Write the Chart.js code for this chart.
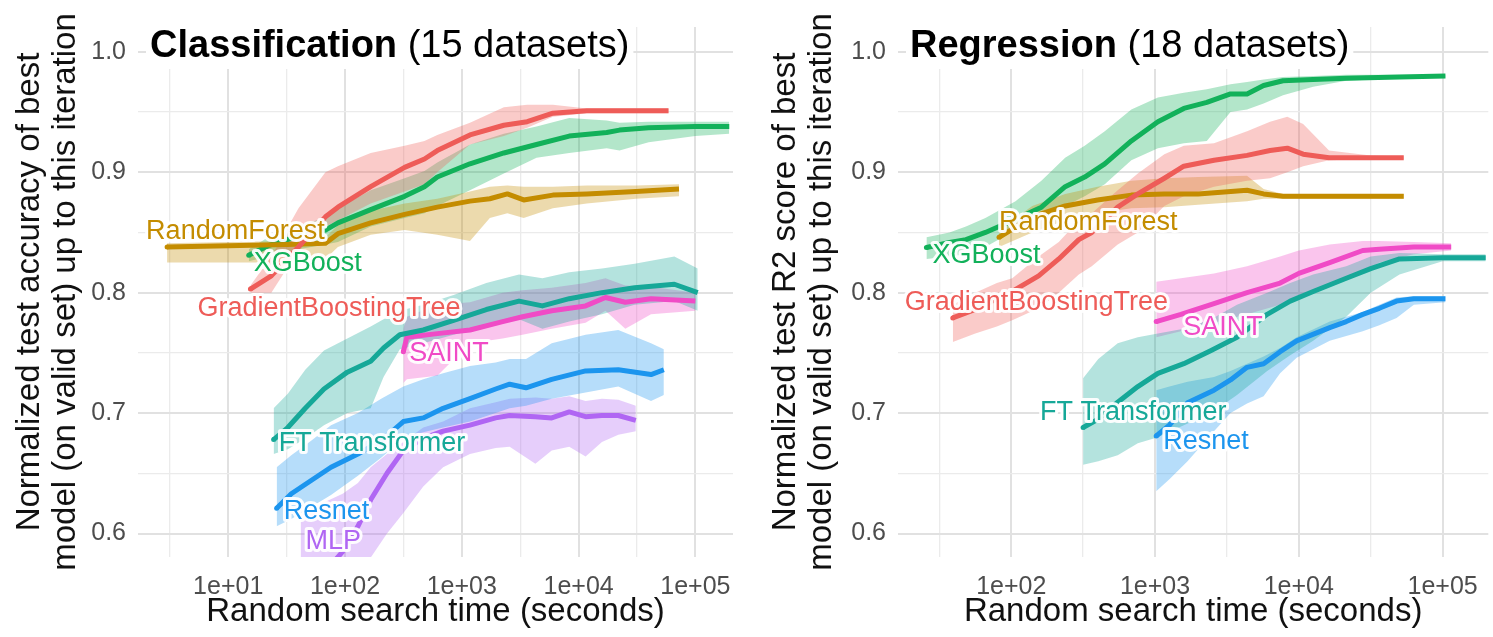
<!DOCTYPE html>
<html>
<head>
<meta charset="utf-8">
<script src="https://cdn.jsdelivr.net/npm/chart.js@4.4.1/dist/chart.umd.min.js"></script>
<style>
  body { margin: 0; background: #fff; }
  #wrap { position: relative; width: 1493px; height: 637px; overflow: hidden; }
  #wrap canvas { position: absolute; top: 0; }
</style>
</head>
<body>
<div id="wrap">
  <canvas id="cls" width="746" height="637" style="left:0;width:746px;height:637px"></canvas>
  <canvas id="reg" width="747" height="637" style="left:746px;width:747px;height:637px"></canvas>
</div>
<script>
// ---- axis ticks ----
const xMajorCls = [10, 100, 1000, 10000, 100000];
const xMinorCls = [3.162, 31.62, 316.2, 3162, 31623];
const xMajorReg = [100, 1000, 10000, 100000];
const xMinorReg = [31.62, 316.2, 3162, 31623];
const yMajor = [0.6, 0.7, 0.8, 0.9, 1.0];
const yMinor = [0.65, 0.75, 0.85, 0.95];

// ---- Classification (15 datasets) ----
const clsGbtTime = [15.5, 23.4, 40, 68, 87, 166, 324, 479, 617, 1175, 2291, 3631, 6026, 11750, 30900, 58900];
const clsGbtMean = [0.803, 0.814, 0.838, 0.863, 0.871, 0.888, 0.904, 0.911, 0.918, 0.931, 0.939, 0.942, 0.949, 0.951, 0.951, 0.951];
const clsGbtLo = [0.800, 0.800, 0.835, 0.855, 0.860, 0.874, 0.884, 0.890, 0.900, 0.923, 0.930, 0.937, 0.946, 0.949, 0.949, 0.949];
const clsGbtHi = [0.806, 0.830, 0.870, 0.900, 0.905, 0.916, 0.922, 0.926, 0.931, 0.941, 0.954, 0.956, 0.956, 0.953, 0.953, 0.953];

const clsRfTime = [3, 10, 32, 68, 87, 166, 324, 617, 1175, 1738, 2455, 3388, 6026, 11750, 30900, 72400];
const clsRfMean = [0.838, 0.839, 0.840, 0.841, 0.849, 0.858, 0.865, 0.871, 0.876, 0.878, 0.882, 0.877, 0.881, 0.882, 0.884, 0.886];
const clsRfLo = [0.825, 0.825, 0.825, 0.828, 0.838, 0.848, 0.852, 0.848, 0.843, 0.862, 0.866, 0.862, 0.870, 0.874, 0.878, 0.880];
const clsRfHi = [0.841, 0.842, 0.843, 0.846, 0.856, 0.868, 0.874, 0.878, 0.884, 0.888, 0.889, 0.888, 0.888, 0.889, 0.889, 0.890];

const clsXgbTime = [15, 22, 40, 68, 87, 166, 324, 479, 617, 1175, 2291, 4365, 8318, 17400, 22400, 39800, 100000, 195000];
const clsXgbMean = [0.831, 0.839, 0.847, 0.852, 0.858, 0.869, 0.880, 0.888, 0.896, 0.907, 0.916, 0.923, 0.930, 0.933, 0.935, 0.937, 0.938, 0.938];
const clsXgbLo = [0.826, 0.830, 0.836, 0.840, 0.842, 0.855, 0.862, 0.866, 0.872, 0.885, 0.899, 0.912, 0.916, 0.920, 0.918, 0.925, 0.930, 0.932];
const clsXgbHi = [0.836, 0.846, 0.856, 0.862, 0.870, 0.885, 0.895, 0.901, 0.908, 0.923, 0.932, 0.938, 0.945, 0.943, 0.941, 0.942, 0.942, 0.942];

const clsFtTime = [24.5, 32.4, 45.7, 66.1, 104.7, 166, 214, 295, 468, 851, 1622, 3090, 4898, 8318, 15850, 30200, 66070, 104700];
const clsFtMean = [0.678, 0.688, 0.704, 0.720, 0.734, 0.743, 0.754, 0.765, 0.769, 0.777, 0.786, 0.793, 0.789, 0.795, 0.800, 0.804, 0.807, 0.800];
const clsFtLo = [0.666, 0.670, 0.679, 0.690, 0.700, 0.704, 0.730, 0.753, 0.758, 0.765, 0.772, 0.778, 0.770, 0.776, 0.782, 0.790, 0.793, 0.785];
const clsFtHi = [0.704, 0.716, 0.736, 0.752, 0.762, 0.772, 0.778, 0.785, 0.790, 0.798, 0.808, 0.815, 0.812, 0.817, 0.820, 0.824, 0.830, 0.820];

const clsResnetTime = [26, 34.7, 51.3, 75.9, 129, 204, 316, 468, 692, 1175, 1950, 2570, 3548, 5888, 11480, 21880, 41690, 53700];
const clsResnetMean = [0.621, 0.633, 0.644, 0.655, 0.666, 0.677, 0.693, 0.696, 0.704, 0.712, 0.720, 0.724, 0.721, 0.728, 0.735, 0.736, 0.732, 0.736];
const clsResnetLo = [0.606, 0.612, 0.622, 0.632, 0.648, 0.663, 0.679, 0.684, 0.688, 0.693, 0.700, 0.704, 0.706, 0.712, 0.717, 0.722, 0.710, 0.715];
const clsResnetHi = [0.655, 0.665, 0.677, 0.690, 0.700, 0.712, 0.722, 0.728, 0.733, 0.739, 0.742, 0.745, 0.745, 0.758, 0.765, 0.769, 0.758, 0.753];

const clsMlpTime = [41.7, 63.1, 95.5, 129, 166, 229, 316, 468, 692, 1175, 1950, 2570, 4266, 5888, 8318, 11480, 15850, 21880, 30900];
const clsMlpMean = [0.540, 0.565, 0.585, 0.606, 0.628, 0.650, 0.669, 0.679, 0.685, 0.690, 0.696, 0.698, 0.697, 0.696, 0.701, 0.697, 0.698, 0.698, 0.694];
const clsMlpLo = [0.500, 0.520, 0.540, 0.560, 0.580, 0.600, 0.617, 0.639, 0.655, 0.666, 0.671, 0.672, 0.658, 0.669, 0.672, 0.664, 0.676, 0.682, 0.685];
const clsMlpHi = [0.615, 0.625, 0.633, 0.642, 0.655, 0.666, 0.676, 0.688, 0.693, 0.704, 0.709, 0.712, 0.713, 0.712, 0.714, 0.710, 0.712, 0.711, 0.706];

const clsSaintTime = [316, 339, 617, 1175, 2239, 3311, 5888, 11480, 16980, 25120, 41690, 100000];
const clsSaintMean = [0.751, 0.763, 0.766, 0.769, 0.776, 0.780, 0.785, 0.789, 0.796, 0.792, 0.795, 0.793];
const clsSaintLo = [0.725, 0.728, 0.731, 0.758, 0.762, 0.765, 0.770, 0.775, 0.785, 0.770, 0.782, 0.785];
const clsSaintHi = [0.770, 0.780, 0.790, 0.792, 0.800, 0.802, 0.804, 0.808, 0.812, 0.806, 0.805, 0.800];

// ---- Regression (18 datasets) ----
const regGbtTime = [39.2, 56.2, 79.4, 101.6, 155, 214, 295, 363, 550, 759, 1161, 1585, 2570, 4365, 6310, 8318, 10720, 16220, 31620, 53700];
const regGbtMean = [0.779, 0.786, 0.795, 0.801, 0.814, 0.828, 0.844, 0.850, 0.871, 0.882, 0.895, 0.905, 0.910, 0.914, 0.918, 0.920, 0.915, 0.912, 0.912, 0.912];
const regGbtLo = [0.759, 0.766, 0.772, 0.777, 0.787, 0.800, 0.815, 0.822, 0.840, 0.850, 0.872, 0.880, 0.888, 0.893, 0.895, 0.900, 0.905, 0.910, 0.911, 0.911];
const regGbtHi = [0.790, 0.800, 0.808, 0.812, 0.830, 0.842, 0.860, 0.866, 0.885, 0.899, 0.915, 0.922, 0.924, 0.934, 0.942, 0.946, 0.940, 0.918, 0.914, 0.913];

const regRfTime = [82.2, 140, 237, 398, 684, 1161, 1995, 4365, 5690, 7762, 15850, 31620, 53700];
const regRfMean = [0.846, 0.863, 0.872, 0.877, 0.881, 0.882, 0.882, 0.885, 0.882, 0.880, 0.880, 0.880, 0.880];
const regRfLo = [0.838, 0.850, 0.860, 0.866, 0.870, 0.871, 0.873, 0.876, 0.878, 0.878, 0.878, 0.878, 0.878];
const regRfHi = [0.852, 0.872, 0.882, 0.888, 0.893, 0.895, 0.896, 0.897, 0.886, 0.882, 0.882, 0.882, 0.882];

const regXgbTime = [25.7, 37.2, 48.4, 66.1, 107, 162, 237, 324, 447, 684, 1047, 1585, 2291, 3350, 4365, 5690, 7762, 12590, 21380, 50120, 104700];
const regXgbMean = [0.8375, 0.8416, 0.844, 0.850, 0.861, 0.871, 0.888, 0.896, 0.907, 0.926, 0.942, 0.953, 0.958, 0.965, 0.965, 0.972, 0.976, 0.977, 0.978, 0.979, 0.980];
const regXgbLo = [0.828, 0.830, 0.832, 0.838, 0.852, 0.861, 0.872, 0.880, 0.890, 0.910, 0.920, 0.924, 0.926, 0.950, 0.952, 0.957, 0.964, 0.971, 0.976, 0.978, 0.979];
const regXgbHi = [0.846, 0.850, 0.855, 0.862, 0.876, 0.893, 0.912, 0.922, 0.934, 0.952, 0.962, 0.966, 0.969, 0.973, 0.975, 0.977, 0.979, 0.980, 0.981, 0.981, 0.981];

const regFtTime = [316, 403, 550, 759, 1047, 1585, 2455, 3715, 6026, 8710, 12590, 21380, 31620, 50120, 100000, 199500];
const regFtMean = [0.688, 0.695, 0.709, 0.722, 0.733, 0.741, 0.752, 0.763, 0.782, 0.793, 0.801, 0.812, 0.820, 0.828, 0.829, 0.829];
const regFtLo = [0.657, 0.660, 0.665, 0.675, 0.680, 0.690, 0.700, 0.715, 0.735, 0.748, 0.760, 0.780, 0.800, 0.815, 0.826, 0.826];
const regFtHi = [0.729, 0.745, 0.758, 0.763, 0.766, 0.770, 0.778, 0.790, 0.800, 0.808, 0.815, 0.822, 0.830, 0.833, 0.832, 0.832];

const regResnetTime = [1019, 1259, 1683, 2570, 3350, 4365, 5690, 7413, 9660, 16410, 21380, 27860, 36310, 47860, 63100, 104700];
const regResnetMean = [0.681, 0.690, 0.7085, 0.719, 0.7275, 0.738, 0.741, 0.751, 0.760, 0.771, 0.776, 0.782, 0.787, 0.793, 0.795, 0.795];
const regResnetLo = [0.635, 0.645, 0.660, 0.685, 0.700, 0.708, 0.714, 0.733, 0.746, 0.760, 0.764, 0.768, 0.773, 0.779, 0.790, 0.792];
const regResnetHi = [0.719, 0.722, 0.726, 0.730, 0.735, 0.741, 0.747, 0.754, 0.763, 0.776, 0.780, 0.784, 0.790, 0.796, 0.797, 0.797];

const regSaintTime = [1019, 1514, 2570, 4365, 7413, 10000, 16410, 27860, 36310, 63100, 114800];
const regSaintMean = [0.776, 0.782, 0.791, 0.800, 0.808, 0.816, 0.825, 0.835, 0.836, 0.838, 0.838];
const regSaintLo = [0.763, 0.768, 0.775, 0.782, 0.790, 0.795, 0.805, 0.817, 0.825, 0.832, 0.835];
const regSaintHi = [0.809, 0.812, 0.816, 0.822, 0.830, 0.835, 0.840, 0.843, 0.843, 0.842, 0.841];

// ---- styling ----
const FONT = "'Liberation Sans', Arial, Helvetica, sans-serif";
const colors = {
  GradientBoostingTree: '#ee5c58',
  RandomForest: '#c48c00',
  XGBoost: '#12b15a',
  'FT Transformer': '#16a898',
  Resnet: '#1c95ee',
  MLP: '#b066f3',
  SAINT: '#f04bc6'
};

function rgba(hex, a) {
  const n = parseInt(hex.slice(1), 16);
  return 'rgba(' + (n >> 16) + ',' + ((n >> 8) & 255) + ',' + (n & 255) + ',' + a + ')';
}

function pts(xs, ys) {
  return xs.map((x, i) => ({x: x, y: ys[i]}));
}

function isMajorY(v) {
  return Math.abs(v * 10 - Math.round(v * 10)) < 1e-6;
}

function sci(v) {
  return '1e+' + String(Math.round(Math.log10(v))).padStart(2, '0');
}

// label text with a white halo, placed next to the first point of each line
const labelPlugin = {
  id: 'seriesLabels',
  afterDatasetsDraw(chart) {
    const ctx = chart.ctx;
    ctx.save();
    ctx.font = '27px ' + FONT;
    ctx.textAlign = 'left';
    ctx.textBaseline = 'middle';
    ctx.lineJoin = 'round';
    chart.data.datasets.forEach((ds, i) => {
      if (!ds.seriesLabel) return;
      const p = chart.getDatasetMeta(i).data[0];
      const x = p.x + ds.labelShift[0];
      const y = p.y + ds.labelShift[1];
      ctx.strokeStyle = 'rgba(255,255,255,0.95)';
      ctx.lineWidth = 6;
      ctx.strokeText(ds.seriesLabel, x, y);
      ctx.fillStyle = ds.borderColor;
      ctx.fillText(ds.seriesLabel, x, y);
    });
    ctx.restore();
  }
};

// panel title inside the plot, on a white box
const panelTitlePlugin = {
  id: 'panelTitle',
  beforeDatasetsDraw(chart) {
    const o = chart.options.plugins.panelTitle;
    const ctx = chart.ctx;
    const x = chart.chartArea.left + o.dx;
    const y = o.baseline;
    ctx.save();
    ctx.textBaseline = 'alphabetic';
    ctx.textAlign = 'left';
    ctx.font = 'bold 38px ' + FONT;
    const w1 = ctx.measureText(o.bold).width;
    ctx.font = '38px ' + FONT;
    const w2 = ctx.measureText(o.normal).width;
    ctx.fillStyle = '#ffffff';
    ctx.fillRect(x - 4, y - 35, w1 + w2 + 8, 47);
    ctx.fillStyle = '#000000';
    ctx.font = 'bold 38px ' + FONT;
    ctx.fillText(o.bold, x, y);
    ctx.font = '38px ' + FONT;
    ctx.fillText(o.normal, x + w1, y);
    ctx.restore();
  }
};

function buildPanel(canvasId, p) {
  const datasets = [];
  p.series.forEach(s => {
    const c = colors[s.name];
    datasets.push({
      data: pts(s.time, s.lo), borderWidth: 0, pointRadius: 0, fill: false,
      order: 2, clip: 0
    });
    datasets.push({
      data: pts(s.time, s.hi), borderWidth: 0, pointRadius: 0, fill: '-1',
      backgroundColor: rgba(c, 0.32), order: 2, clip: 0
    });
  });
  p.series.forEach(s => {
    const c = colors[s.name];
    datasets.push({
      data: pts(s.time, s.mean), borderColor: c, backgroundColor: c, borderWidth: 5,
      pointRadius: ctx => ctx.dataIndex === 0 ? 2.5 : 0, pointBorderWidth: 0,
      fill: false, order: 1, clip: 0, borderJoinStyle: 'round', borderCapStyle: 'butt',
      seriesLabel: s.name, labelShift: s.shift
    });
  });

  const xTicks = p.xMinor.concat(p.xMajor).sort((a, b) => a - b);
  const yTicks = yMinor.concat(yMajor).sort((a, b) => a - b);

  return new Chart(document.getElementById(canvasId), {
    type: 'line',
    data: {datasets: datasets},
    plugins: [panelTitlePlugin, labelPlugin],
    options: {
      responsive: false,
      animation: false,
      events: [],
      elements: {line: {tension: 0}},
      layout: {padding: {top: 17, right: p.padRight, left: 0, bottom: 0}},
      plugins: {
        legend: {display: false},
        tooltip: {enabled: false},
        panelTitle: {bold: p.titleBold, normal: p.titleNormal, dx: 12, baseline: 57}
      },
      scales: {
        x: {
          type: 'logarithmic',
          min: p.xMin,
          max: p.xMax,
          afterBuildTicks: sc => { sc.ticks = xTicks.map(v => ({value: v})); },
          afterFit: sc => { sc.height = 80; },
          border: {display: false},
          grid: {
            drawTicks: false,
            color: ctx => p.xMajor.includes(ctx.tick.value) ? '#e1e1e1' : '#ebebeb',
            lineWidth: ctx => p.xMajor.includes(ctx.tick.value) ? 2 : 1.3
          },
          ticks: {
            autoSkip: false, maxRotation: 0, minRotation: 0, padding: 15,
            color: '#4d4d4d', font: {family: FONT, size: 25},
            callback: v => p.xMajor.includes(v) ? sci(v) : ''
          },
          title: {
            display: true, text: 'Random search time (seconds)', color: '#111',
            font: {family: FONT, size: 33, lineHeight: 1.09}, padding: {top: 0, bottom: 7}
          }
        },
        y: {
          type: 'linear',
          min: 0.5805,
          max: 1.0206,
          afterBuildTicks: sc => { sc.ticks = yTicks.map(v => ({value: v})); },
          afterFit: sc => { sc.width = p.yWidth; },
          border: {display: false},
          grid: {
            drawTicks: false,
            color: ctx => isMajorY(ctx.tick.value) ? '#e1e1e1' : '#ebebeb',
            lineWidth: ctx => isMajorY(ctx.tick.value) ? 2 : 1.3
          },
          ticks: {
            padding: 12, color: '#4d4d4d', font: {family: FONT, size: 25},
            callback: v => isMajorY(v) ? v.toFixed(1) : ''
          },
          title: {
            display: true, text: p.yTitle, color: '#111',
            font: {family: FONT, size: 33, lineHeight: 1.09}, padding: {top: p.yTitlePad, bottom: 0}
          }
        }
      }
    }
  });
}

buildPanel('cls', {
  titleBold: 'Classification', titleNormal: ' (15 datasets)',
  yTitle: ['Normalized test accuracy of best', 'model (on valid set) up to this iteration'],
  yWidth: 138, yTitlePad: 12, padRight: 8,
  xMin: 1.69, xMax: 210000, xMajor: xMajorCls, xMinor: xMinorCls,
  series: [
    {name: 'GradientBoostingTree', time: clsGbtTime, mean: clsGbtMean, lo: clsGbtLo, hi: clsGbtHi, shift: [-53, 19]},
    {name: 'RandomForest', time: clsRfTime, mean: clsRfMean, lo: clsRfLo, hi: clsRfHi, shift: [-21, -15]},
    {name: 'XGBoost', time: clsXgbTime, mean: clsXgbMean, lo: clsXgbLo, hi: clsXgbHi, shift: [5, 8]},
    {name: 'FT Transformer', time: clsFtTime, mean: clsFtMean, lo: clsFtLo, hi: clsFtHi, shift: [5, 4]},
    {name: 'Resnet', time: clsResnetTime, mean: clsResnetMean, lo: clsResnetLo, hi: clsResnetHi, shift: [7, 3]},
    {name: 'MLP', time: clsMlpTime, mean: clsMlpMean, lo: clsMlpLo, hi: clsMlpHi, shift: [5, -64]},
    {name: 'SAINT', time: clsSaintTime, mean: clsSaintMean, lo: clsSaintLo, hi: clsSaintHi, shift: [6, 2]}
  ]
});

buildPanel('reg', {
  titleBold: 'Regression', titleNormal: ' (18 datasets)',
  yTitle: ['Normalized test R2 score of best', 'model (on valid set) up to this iteration'],
  yWidth: 152, yTitlePad: 22, padRight: 0,
  xMin: 16.3, xMax: 208000, xMajor: xMajorReg, xMinor: xMinorReg,
  series: [
    {name: 'GradientBoostingTree', time: regGbtTime, mean: regGbtMean, lo: regGbtLo, hi: regGbtHi, shift: [-48, -15]},
    {name: 'RandomForest', time: regRfTime, mean: regRfMean, lo: regRfLo, hi: regRfHi, shift: [0, -15]},
    {name: 'XGBoost', time: regXgbTime, mean: regXgbMean, lo: regXgbLo, hi: regXgbHi, shift: [6, 8]},
    {name: 'FT Transformer', time: regFtTime, mean: regFtMean, lo: regFtLo, hi: regFtHi, shift: [-43, -15]},
    {name: 'Resnet', time: regResnetTime, mean: regResnetMean, lo: regResnetLo, hi: regResnetHi, shift: [7, 6]},
    {name: 'SAINT', time: regSaintTime, mean: regSaintMean, lo: regSaintLo, hi: regSaintHi, shift: [27, 6]}
  ]
});
</script>
</body>
</html>
